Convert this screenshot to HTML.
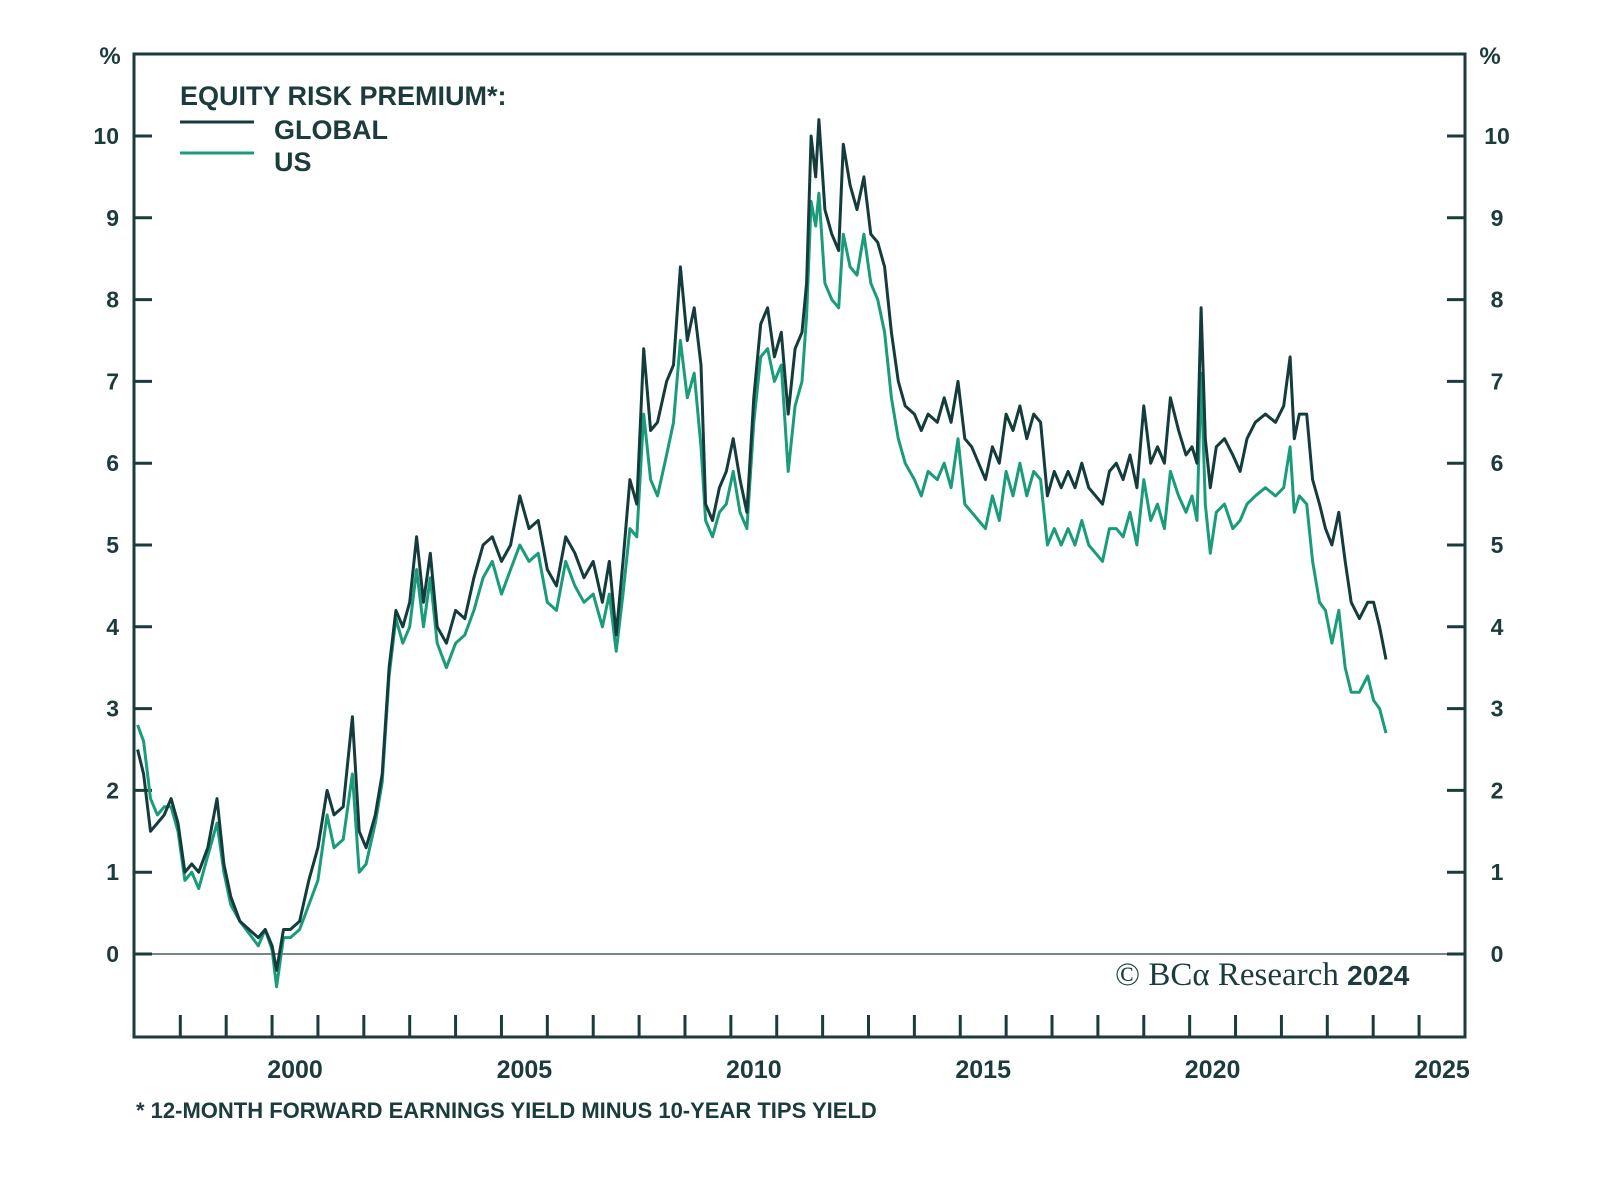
<!DOCTYPE html>
<html><head><meta charset="utf-8"><style>
html,body{margin:0;padding:0;background:#fff;}
svg{display:block;}
text{font-family:"Liberation Sans",sans-serif;fill:#1b3b3d;font-weight:bold;}
</style></head><body>
<svg id="chart" width="1600" height="1200" viewBox="0 0 1600 1200">
<g id="axes"></g>
<g id="series"></g>
<g>
<text x="180" y="105" font-size="27">EQUITY RISK PREMIUM*:</text>
<line x1="180" y1="122" x2="254" y2="122" stroke="#143c3c" stroke-width="3"/>
<text x="274" y="139" font-size="27">GLOBAL</text>
<line x1="180" y1="153" x2="254" y2="153" stroke="#1a9c7a" stroke-width="3"/>
<text x="274" y="171" font-size="27">US</text>
</g>
<text x="1115" y="985" font-size="33" style="font-family:'Liberation Serif',serif;font-weight:normal">© BCα Research <tspan style="font-family:'Liberation Sans',sans-serif;font-weight:bold" font-size="28">2024</tspan></text>
<text x="136" y="1118" font-size="22">* 12-MONTH FORWARD EARNINGS YIELD MINUS 10-YEAR TIPS YIELD</text>
<text x="110" y="64" font-size="24" text-anchor="middle">%</text>
<text x="1490" y="64" font-size="24" text-anchor="middle">%</text>
</svg>
<script>
const dates=[1996.57,1996.7,1996.85,1997.0,1997.15,1997.3,1997.45,1997.6,1997.75,1997.9,1998.1,1998.3,1998.45,1998.6,1998.8,1999.0,1999.2,1999.35,1999.5,1999.6,1999.75,1999.9,2000.1,2000.3,2000.5,2000.7,2000.85,2001.05,2001.25,2001.4,2001.55,2001.75,2001.9,2002.05,2002.2,2002.35,2002.5,2002.65,2002.8,2002.95,2003.1,2003.3,2003.5,2003.7,2003.9,2004.1,2004.3,2004.5,2004.7,2004.9,2005.1,2005.3,2005.5,2005.7,2005.9,2006.1,2006.3,2006.5,2006.7,2006.85,2007.0,2007.15,2007.3,2007.45,2007.6,2007.75,2007.9,2008.1,2008.25,2008.4,2008.55,2008.7,2008.85,2008.95,2009.1,2009.25,2009.4,2009.55,2009.7,2009.85,2010.0,2010.15,2010.3,2010.45,2010.6,2010.75,2010.9,2011.05,2011.15,2011.25,2011.35,2011.42,2011.55,2011.7,2011.85,2011.95,2012.1,2012.25,2012.4,2012.55,2012.7,2012.85,2013.0,2013.15,2013.3,2013.5,2013.65,2013.8,2014.0,2014.15,2014.3,2014.45,2014.6,2014.75,2014.9,2015.05,2015.2,2015.35,2015.5,2015.65,2015.8,2015.95,2016.1,2016.25,2016.4,2016.55,2016.7,2016.85,2017.0,2017.15,2017.3,2017.45,2017.6,2017.75,2017.9,2018.05,2018.2,2018.35,2018.5,2018.65,2018.8,2018.95,2019.08,2019.26,2019.42,2019.55,2019.66,2019.75,2019.84,2019.95,2020.08,2020.26,2020.44,2020.6,2020.75,2020.93,2021.15,2021.37,2021.55,2021.69,2021.78,2021.89,2022.05,2022.18,2022.33,2022.46,2022.6,2022.75,2022.89,2023.02,2023.2,2023.38,2023.51,2023.64,2023.78];
const globalVals=[2.5,2.2,1.5,1.6,1.7,1.9,1.6,1.0,1.1,1.0,1.3,1.9,1.1,0.7,0.4,0.3,0.2,0.3,0.1,-0.2,0.3,0.3,0.4,0.9,1.3,2.0,1.7,1.8,2.9,1.5,1.3,1.7,2.2,3.5,4.2,4.0,4.3,5.1,4.3,4.9,4.0,3.8,4.2,4.1,4.6,5.0,5.1,4.8,5.0,5.6,5.2,5.3,4.7,4.5,5.1,4.9,4.6,4.8,4.3,4.8,3.9,4.8,5.8,5.5,7.4,6.4,6.5,7.0,7.2,8.4,7.5,7.9,7.2,5.5,5.3,5.7,5.9,6.3,5.8,5.4,6.8,7.7,7.9,7.3,7.6,6.6,7.4,7.6,8.2,10.0,9.5,10.2,9.1,8.8,8.6,9.9,9.4,9.1,9.5,8.8,8.7,8.4,7.6,7.0,6.7,6.6,6.4,6.6,6.5,6.8,6.5,7.0,6.3,6.2,6.0,5.8,6.2,6.0,6.6,6.4,6.7,6.3,6.6,6.5,5.6,5.9,5.7,5.9,5.7,6.0,5.7,5.6,5.5,5.9,6.0,5.8,6.1,5.7,6.7,6.0,6.2,6.0,6.8,6.4,6.1,6.2,6.0,7.9,6.3,5.7,6.2,6.3,6.1,5.9,6.3,6.5,6.6,6.5,6.7,7.3,6.3,6.6,6.6,5.8,5.5,5.2,5.0,5.4,4.8,4.3,4.1,4.3,4.3,4.0,3.6];
const usVals=[2.8,2.6,1.9,1.7,1.8,1.8,1.5,0.9,1.0,0.8,1.2,1.6,1.0,0.6,0.4,0.25,0.1,0.3,0.05,-0.4,0.2,0.2,0.3,0.6,0.9,1.7,1.3,1.4,2.2,1.0,1.1,1.6,2.1,3.4,4.1,3.8,4.0,4.7,4.0,4.6,3.8,3.5,3.8,3.9,4.2,4.6,4.8,4.4,4.7,5.0,4.8,4.9,4.3,4.2,4.8,4.5,4.3,4.4,4.0,4.4,3.7,4.4,5.2,5.1,6.6,5.8,5.6,6.1,6.5,7.5,6.8,7.1,6.2,5.3,5.1,5.4,5.5,5.9,5.4,5.2,6.5,7.3,7.4,7.0,7.2,5.9,6.7,7.0,7.8,9.2,8.9,9.3,8.2,8.0,7.9,8.8,8.4,8.3,8.8,8.2,8.0,7.6,6.8,6.3,6.0,5.8,5.6,5.9,5.8,6.0,5.7,6.3,5.5,5.4,5.3,5.2,5.6,5.3,5.9,5.6,6.0,5.6,5.9,5.8,5.0,5.2,5.0,5.2,5.0,5.3,5.0,4.9,4.8,5.2,5.2,5.1,5.4,5.0,5.8,5.3,5.5,5.2,5.9,5.6,5.4,5.6,5.3,7.1,5.5,4.9,5.4,5.5,5.2,5.3,5.5,5.6,5.7,5.6,5.7,6.2,5.4,5.6,5.5,4.8,4.3,4.2,3.8,4.2,3.5,3.2,3.2,3.4,3.1,3.0,2.7];
const yTicks=[0,1,2,3,4,5,6,7,8,9,10];
const yearLabels=[2000,2005,2010,2015,2020,2025];
const yearTicks=[1997,1998,1999,2000,2001,2002,2003,2004,2005,2006,2007,2008,2009,2010,2011,2012,2013,2014,2015,2016,2017,2018,2019,2020,2021,2022,2023,2024];

const NS='http://www.w3.org/2000/svg';
const L=134,R=1465,T=54,B=1037;
function xs(yr){return 295+(yr-2000)*45.88;}
function ys(v){return 954-v*81.8;}
function mk(tag,attrs,parent){const e=document.createElementNS(NS,tag);for(const k in attrs)e.setAttribute(k,attrs[k]);parent.appendChild(e);return e;}
const ax=document.getElementById('axes');
let e;
e=mk('rect',{x:L,y:T,width:R-L,height:B-T,fill:'none',stroke:'#1b3b3d','stroke-width':3},ax);


e=mk('line',{x1:L,y1:ys(0),x2:R,y2:ys(0),stroke:'#4a5e60','stroke-width':1.5},ax);


yTicks.forEach(v=>{
  const y=ys(v);
  let t=mk('line',{x1:L,y1:y,x2:L+18,y2:y,stroke:'#1b3b3d','stroke-width':3},ax);
  
  
  t=mk('line',{x1:R-18,y1:y,x2:R,y2:y,stroke:'#1b3b3d','stroke-width':3},ax);
  
  
  let lb=mk('text',{x:119,y:y+8,'font-size':23,'text-anchor':'end'},ax);lb.textContent=v;
  
  
  lb=mk('text',{x:1497,y:y+8,'font-size':23,'text-anchor':'middle'},ax);lb.textContent=v;
  
  
});
yearTicks.forEach(yr=>{
  const x=xs(yr+0.5);
  const t=mk('line',{x1:x,y1:B,x2:x,y2:B-22,stroke:'#1b3b3d','stroke-width':3},ax);
  
  
});
yearLabels.forEach(yr=>{
  const lb=mk('text',{x:xs(yr),y:1078,'font-size':25,'text-anchor':'middle'},ax);lb.textContent=yr;
  
  
});
const sg=document.getElementById('series');
function line(vals,color,name){
  const d=vals.map((v,i)=>(i?'L':'M')+xs(dates[i]).toFixed(1)+' '+ys(v).toFixed(1)).join(' ');
  const p=mk('path',{d:d,fill:'none',stroke:color,'stroke-width':3,'stroke-linejoin':'round'},sg);
  
  
}
line(usVals,'#1a9c7a','us-line');
line(globalVals,'#143c3c','global-line');
</script>
</body></html>
